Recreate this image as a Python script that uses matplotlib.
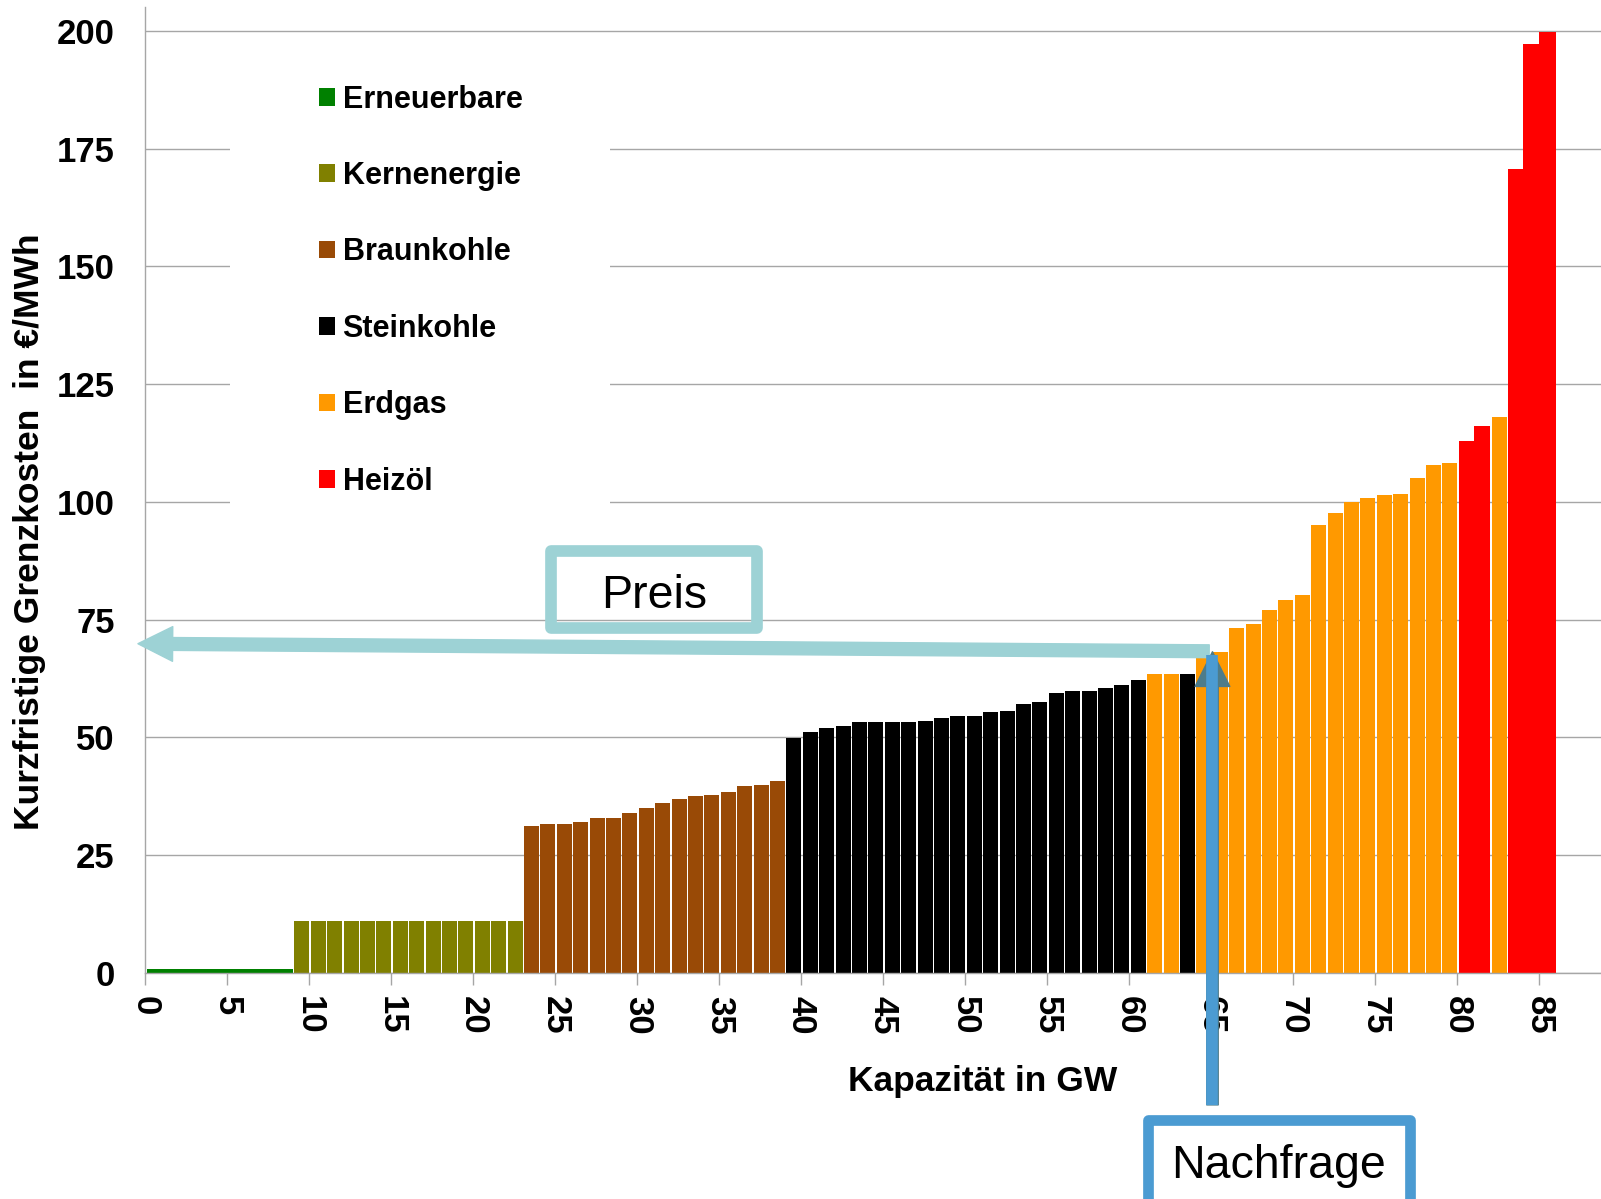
import numpy as np
import matplotlib
matplotlib.use("Agg")
import matplotlib.pyplot as plt
from matplotlib.patches import Patch, Rectangle, FancyArrowPatch, ArrowStyle
from matplotlib.lines import Line2D

plt.rcParams['font.family'] = ['Liberation Sans', 'DejaVu Sans']

# ---------------- data ----------------
fuels = ["Erneuerbare", "Kernenergie", "Braunkohle", "Steinkohle", "Erdgas", "Heizöl"]
fuel_colors = ["#008000", "#808000", "#994A06", "#000000", "#FF9900", "#FF0000"]

# merit order: fuel index, capacity (GW), short-run marginal cost (EUR/MWh)
plant_fuel = ([0] + [1] * 14 + [2] * 16 + [3] * 22 + [4, 4, 3] + [4] * 16
              + [5, 5, 4, 5, 5, 5])
plant_capacity = [9] + [1] * 77
plant_cost = (
    [0.8]
    + [11.1] * 14
    + [31.2, 31.6, 31.6, 32.0, 33.0, 33.0, 34.0, 35.0, 36.1, 36.9, 37.5, 37.8,
       38.4, 39.6, 40.0, 40.7]
    + [49.8, 51.2, 52.1, 52.4, 53.2, 53.2, 53.2, 53.3, 53.6, 54.1, 54.5, 54.5,
       55.3, 55.7, 57.0, 57.5, 59.5, 59.9, 59.9, 60.4, 61.1, 62.1]
    + [63.5, 63.5, 63.5]
    + [67.2, 68.1, 73.2, 74.1, 77.1, 79.1, 80.2, 95.0, 97.7, 99.9, 100.8, 101.5,
       101.6, 105.0, 107.9, 108.2]
    + [112.9, 116.1, 118.0, 170.7, 197.2, 199.8]
)

x_ticks = list(range(0, 90, 5))
y_ticks = list(range(0, 201, 25))

demand_gw = 65.07
price_level = 68.3

# ---------------- figure ----------------
W, H = 1601, 1199
fig = plt.figure(figsize=(W / 100, H / 100), dpi=100)
fig.patch.set_facecolor("white")

def fx(px):
    return px / W

def fy(py):
    return 1 - py / H

ax = fig.add_axes([fx(145.3), 226 / H, (W - 145.3) / W, (973 - 7.3) / H])
ax.set_xlim(0, 88.76)
ax.set_ylim(0, 205)

grey = "#A6A6A6"
ax.set_axisbelow(True)
ax.grid(axis="y", color=grey, linewidth=1.0)
ax.grid(axis="x", visible=False)
for s in ["top", "right"]:
    ax.spines[s].set_visible(False)
for s in ["left", "bottom"]:
    ax.spines[s].set_color(grey)
    ax.spines[s].set_linewidth(1.0)

cap = np.array(plant_capacity, dtype=float)
cost = np.array(plant_cost, dtype=float)
lefts = np.concatenate([[0.0], np.cumsum(cap)[:-1]])
cols = [fuel_colors[i] for i in plant_fuel]
# white separators between bars, except between adjacent oil units
gaps = np.full(len(cap), 0.09)
for i in range(1, len(cap)):
    if plant_fuel[i] == 5 and plant_fuel[i - 1] == 5:
        gaps[i] = 0.0
ax.bar(lefts + gaps, cost, width=cap - gaps, align="edge", color=cols,
       linewidth=0, zorder=1)

ax.set_xticks(x_ticks)
ax.set_yticks(y_ticks)
ax.tick_params(axis="x", length=8.5, width=1.0, color=grey, pad=8,
               labelsize=25, labelrotation=-90)
ax.tick_params(axis="y", length=0, pad=22, labelsize=25)
for lab in ax.get_xticklabels() + ax.get_yticklabels():
    lab.set_fontweight("bold")

ax.set_xlabel("Kapazität in GW", fontsize=25.5, fontweight="bold")
ax.xaxis.set_label_coords(0.5755, -0.095)
ax.set_ylabel("Kurzfristige Grenzkosten  in €/MWh", fontsize=25.5,
              fontweight="bold")
ax.yaxis.set_label_coords(-0.068, 0.4567)

# legend background (covers gridlines)
bg = Rectangle((fx(230), fy(515)), 380 / W, 470 / H, transform=fig.transFigure,
               facecolor="white", edgecolor="none", zorder=0.8)
ax.add_artist(bg)

handles = [Patch(facecolor=c, edgecolor="none") for c in fuel_colors]
leg = ax.legend(handles, fuels, loc="upper left",
                bbox_to_anchor=(fx(319), fy(84.5)),
                bbox_transform=fig.transFigure, frameon=False,
                fontsize=22, handlelength=0.52, handleheight=0.52,
                handletextpad=0.25, labelspacing=1.52, borderpad=0,
                borderaxespad=0)
for t in leg.get_texts():
    t.set_fontweight("bold")

# Preis arrow
preis_col = "#9DD2D5"
arr1 = FancyArrowPatch(posA=(demand_gw - 0.2, price_level), posB=(-0.45, 69.9),
                       arrowstyle=ArrowStyle.Simple(head_length=1.0, head_width=1.0,
                                                    tail_width=0.37),
                       mutation_scale=25, color=preis_col, shrinkA=0, shrinkB=0,
                       clip_on=False, zorder=5)
ax.add_patch(arr1)

# Nachfrage arrow
nf_col = "#4B9BD2"
arr2 = FancyArrowPatch(posA=(demand_gw, -28), posB=(demand_gw, 68.2),
                       arrowstyle=ArrowStyle.Simple(head_length=1.0, head_width=1.0,
                                                    tail_width=0.33),
                       mutation_scale=25, color="#4E7C8A", shrinkA=0, shrinkB=0,
                       clip_on=False, zorder=6)
ax.add_patch(arr2)
shaft = Line2D([demand_gw, demand_gw], [-28, 67.6], color=nf_col, linewidth=8.4,
               solid_capstyle="butt", clip_on=False, zorder=7)
ax.add_line(shaft)

# Preis box
box1 = Rectangle((fx(551), fy(628)), (757 - 551) / W, (628 - 551) / H,
                 transform=fig.transFigure, facecolor="none", edgecolor=preis_col,
                 linewidth=8.4, joinstyle="round", zorder=8)
fig.patches.append(box1)
fig.text(fx(654), fy(608.3), "Preis", ha="center", va="baseline", fontsize=33.5,
         zorder=9)

# Nachfrage box
box2 = Rectangle((fx(1148.3), fy(1215)), (1409.7 - 1148.3) / W, (1215 - 1120.3) / H,
                 transform=fig.transFigure, facecolor="white", edgecolor=nf_col,
                 linewidth=7.7, joinstyle="round", zorder=8)
fig.patches.append(box2)
fig.text(fx(1278), fy(1178.3), "Nachfrage", ha="center", va="baseline",
         fontsize=33.5, zorder=9)

fig.savefig("out.png", dpi=100, facecolor="white")
